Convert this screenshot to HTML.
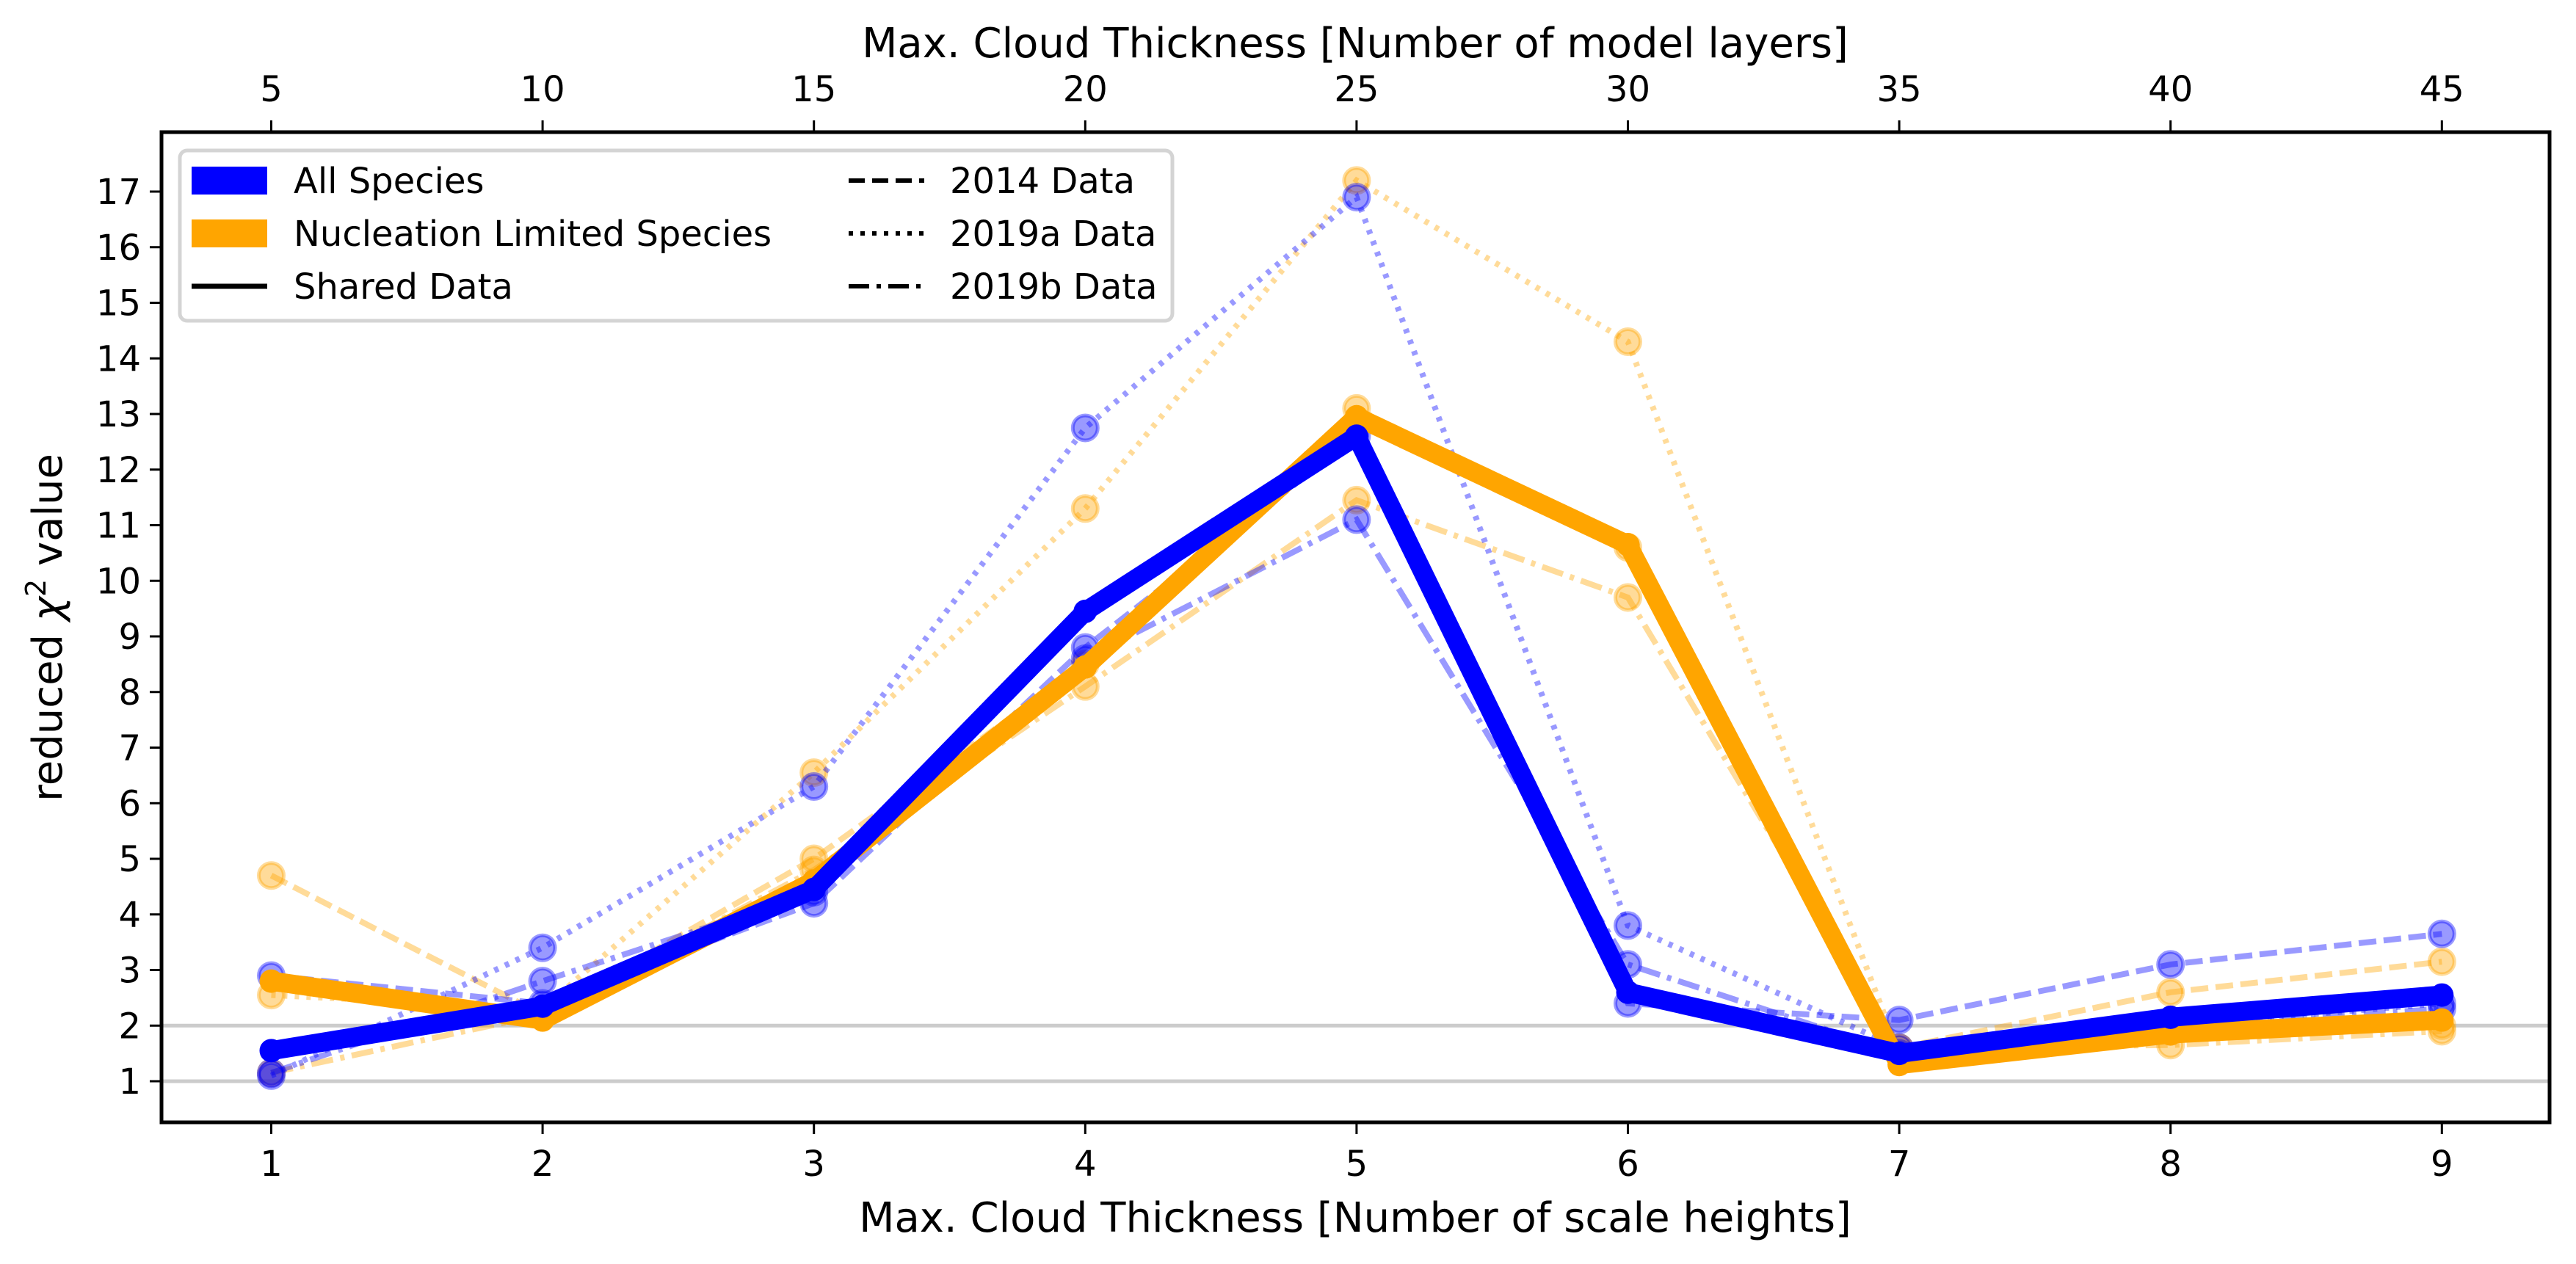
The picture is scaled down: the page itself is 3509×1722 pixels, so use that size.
<!DOCTYPE html>
<html><head><meta charset="utf-8"><style>
html,body{margin:0;padding:0;background:#fff}
svg{display:block;font-family:"DejaVu Sans","Liberation Sans",sans-serif}
</style></head><body>
<svg id="chart" width="3509" height="1722" viewBox="0 0 3509 1722" xmlns="http://www.w3.org/2000/svg">
<rect width="3509" height="1722" fill="#fff"/>
<g id="grid"></g>
<g id="series"></g>
<rect x="220" y="180" width="3253" height="1349" fill="none" stroke="#000" stroke-width="5"/>
<g id="axes"></g>
<text x="1846" y="1678" font-size="56" text-anchor="middle">Max. Cloud Thickness [Number of scale heights]</text>
<text x="1846" y="78" font-size="56" text-anchor="middle">Max. Cloud Thickness [Number of model layers]</text>
<text transform="translate(84,855) rotate(-90)" font-size="56" text-anchor="middle">reduced <tspan font-style="italic">χ</tspan><tspan font-size="38" dy="-22">2</tspan><tspan dy="22"> value</tspan></text>
<g>
<rect x="245" y="205" width="1352" height="232" rx="10" fill="#fff" fill-opacity="0.8" stroke="#d4d4d4" stroke-width="5"/>
<rect x="261" y="227" width="103" height="38" fill="#0000ff"/>
<text x="400" y="263" font-size="48">All Species</text>
<rect x="261" y="299" width="103" height="38" fill="#ffa500"/>
<text x="400" y="335" font-size="48">Nucleation Limited Species</text>
<line x1="261" y1="390" x2="364" y2="390" stroke="#000" stroke-width="7"/>
<text x="400" y="407" font-size="48">Shared Data</text>
<line x1="1156" y1="246" x2="1259" y2="246" stroke="#000" stroke-width="6" stroke-dasharray="22,10"/>
<text x="1294" y="263" font-size="48">2014 Data</text>
<line x1="1156" y1="318" x2="1259" y2="318" stroke="#000" stroke-width="6" stroke-dasharray="6,10"/>
<text x="1294" y="335" font-size="48">2019a Data</text>
<line x1="1156" y1="390" x2="1259" y2="390" stroke="#000" stroke-width="6" stroke-dasharray="28,10,6,10"/>
<text x="1294" y="407" font-size="48">2019b Data</text>
</g>
</svg>
<script>
const categories = [1,2,3,4,5,6,7,8,9];
const topTicks = [5,10,15,20,25,30,35,40,45];
const yTicks = [1,2,3,4,5,6,7,8,9,10,11,12,13,14,15,16,17];
const refLines = [1,2];
const allShared = [1.55,2.35,4.45,9.45,12.6,2.6,1.5,2.15,2.55];
const all2014 = [2.9,2.4,4.2,8.8,12.6,2.4,2.1,3.1,3.65];
const all2019a = [1.1,3.4,6.3,12.75,16.9,3.8,1.6,2.0,2.4];
const all2019b = [1.15,2.8,4.4,8.6,11.1,3.1,1.5,2.0,2.3];
const nucShared = [2.8,2.1,4.6,8.45,12.95,10.65,1.3,1.85,2.1];
const nuc2014 = [4.7,2.2,5.0,8.5,13.1,10.6,1.6,2.6,3.15];
const nuc2019a = [2.55,2.3,6.55,11.3,17.2,14.3,1.5,1.9,2.0];
const nuc2019b = [1.15,2.2,4.8,8.1,11.45,9.7,1.6,1.65,1.9];

const NS='http://www.w3.org/2000/svg';
function X(v){return 369.5+(v-1)*369.6;}
function Y(v){return 1548.75-75.75*v;}
function mk(tag,attrs,parent){const e=document.createElementNS(NS,tag);for(const k in attrs)e.setAttribute(k,attrs[k]);parent.appendChild(e);return e;}
const grid=document.getElementById('grid'),series=document.getElementById('series'),axes=document.getElementById('axes');
refLines.forEach(v=>{
  const l=mk('line',{x1:220,x2:3473,y1:Y(v),y2:Y(v),stroke:'#000','stroke-opacity':0.2,'stroke-width':5},grid);
  
  
});
function drawSeries(vals,color,dash,thick,name){
  const g=mk('g',{},series);
  
  
  const pts=vals.map((v,i)=>X(categories[i])+','+Y(v)).join(' ');
  if(thick){
    mk('polyline',{points:pts,fill:'none',stroke:color,'stroke-width':26,'stroke-linejoin':'round'},g);
    vals.forEach((v,i)=>{const c=mk('circle',{cx:X(categories[i]),cy:Y(v),r:16,fill:color},g);
      
      });
  } else {
    mk('polyline',{points:pts,fill:'none',stroke:color,'stroke-opacity':0.4,'stroke-width':8,'stroke-dasharray':dash},g);
    vals.forEach((v,i)=>{const c=mk('circle',{cx:X(categories[i]),cy:Y(v),r:17,fill:color,'fill-opacity':0.4,stroke:color,'stroke-opacity':0.4,'stroke-width':5},g);
      
      });
  }
}
drawSeries(nuc2014,'#ffa500','24,10',false,'nucleation-2014');
drawSeries(nuc2019a,'#ffa500','6,10',false,'nucleation-2019a');
drawSeries(nuc2019b,'#ffa500','30,10,6,10',false,'nucleation-2019b');
drawSeries(all2014,'#0000ff','24,10',false,'all-species-2014');
drawSeries(all2019a,'#0000ff','6,10',false,'all-species-2019a');
drawSeries(all2019b,'#0000ff','30,10,6,10',false,'all-species-2019b');
drawSeries(nucShared,'#ffa500','',true,'nucleation-shared');
drawSeries(allShared,'#0000ff','',true,'all-species-shared');
categories.forEach(c=>{
  mk('line',{x1:X(c),x2:X(c),y1:1529,y2:1545,stroke:'#000','stroke-width':3},axes);
  const t=mk('text',{x:X(c),y:1602,'font-size':48,'text-anchor':'middle'},axes);t.textContent=c;
  
  
});
topTicks.forEach(c=>{
  const x=X(c/5);
  mk('line',{x1:x,x2:x,y1:164,y2:180,stroke:'#000','stroke-width':3},axes);
  const t=mk('text',{x:x,y:138,'font-size':48,'text-anchor':'middle'},axes);t.textContent=c;
  
  
});
yTicks.forEach(v=>{
  mk('line',{x1:204,x2:220,y1:Y(v),y2:Y(v),stroke:'#000','stroke-width':3},axes);
  const t=mk('text',{x:192,y:Y(v)+17,'font-size':48,'text-anchor':'end'},axes);t.textContent=v;
  
  
});
</script>
</body></html>
